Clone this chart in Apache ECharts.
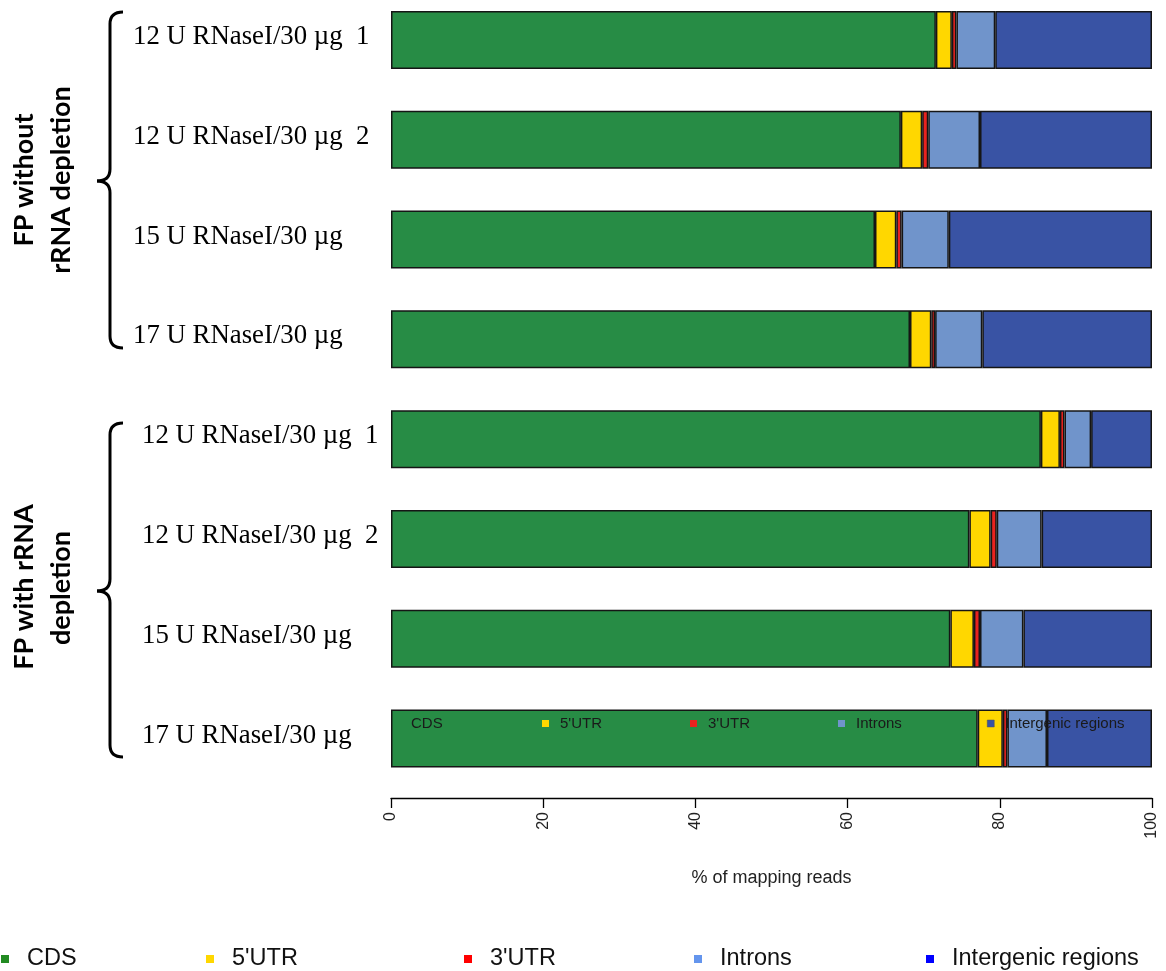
<!DOCTYPE html>
<html>
<head>
<meta charset="utf-8">
<script src="https://cdn.jsdelivr.net/npm/echarts@6/dist/echarts.min.js"></script>
<style>
  html, body { margin: 0; padding: 0; background: #ffffff; }
  #chart { width: 1166px; height: 971px; }
</style>
</head>
<body>
<div id="chart"></div>
<script>
// Samples (top to bottom)
const samples = [
  '12 U RNaseI/30 µg  1',
  '12 U RNaseI/30 µg  2',
  '15 U RNaseI/30 µg',
  '17 U RNaseI/30 µg',
  '12 U RNaseI/30 µg  1 ',
  '12 U RNaseI/30 µg  2 ',
  '15 U RNaseI/30 µg ',
  '17 U RNaseI/30 µg '
];
const groupTitles = [['FP without', 'rRNA depletion'], ['FP with rRNA', 'depletion']];

// % of mapping reads per genomic feature
const cds        = [71.6, 67.0, 63.6, 68.2, 85.4, 76.0, 73.5, 77.1];
const utr5       = [2.1, 2.8, 2.8, 2.8, 2.5, 2.8, 3.1, 3.3];
const utr3       = [0.6, 0.8, 0.7, 0.5, 0.6, 0.8, 0.8, 0.6];
const introns    = [5.1, 6.8, 6.2, 6.2, 3.5, 5.9, 5.7, 5.2];
const intergenic = [20.6, 22.6, 26.7, 22.3, 8.0, 14.5, 16.9, 13.8];

const featureNames = ['CDS', "5'UTR", "3'UTR", 'Introns', 'Intergenic regions'];
const xTicks = [0, 20, 40, 60, 80, 100];

const barColors = ['#278C45', '#FFD700', '#E8231F', '#7094CB', '#3953A4'];
const keyColors = ['#228B22', '#FFD700', '#FF0000', '#6495ED', '#0000FF'];

const seriesValues = [cds, utr5, utr3, introns, intergenic];

const chart = echarts.init(document.getElementById('chart'), null, { renderer: 'canvas' });

const series = featureNames.map((name, i) => ({
  name: name,
  type: 'bar',
  stack: 'reads',
  barWidth: 58,
  clip: false,
  data: seriesValues[i],
  itemStyle: { color: barColors[i], borderColor: '#151515', borderWidth: 1.5 },
  emphasis: { disabled: true },
  silent: true
}));

// Key inside the last bar
const innerKeyX = [393, 542, 690, 838, 987];
const innerLegends = featureNames.map((name, i) => ({
  left: innerKeyX[i],
  top: 716,
  padding: 0,
  orient: 'horizontal',
  selectedMode: false,
  itemWidth: 7,
  itemHeight: 7,
  icon: 'rect',
  data: [{ name: name, itemStyle: { color: barColors[i], borderColor: i === 4 ? '#555' : barColors[i], borderWidth: i === 4 ? 0.5 : 0 } }],
  textStyle: { fontFamily: 'Liberation Sans, Arial', fontSize: 15, color: '#1a1a1a', padding: [0, 0, 0, 6] }
}));

// Key below the chart
const outerKeyX = [1, 206, 464, 694, 926];
const outerLegends = featureNames.map((name, i) => ({
  left: outerKeyX[i],
  top: 947,
  padding: 0,
  orient: 'horizontal',
  selectedMode: false,
  itemWidth: 8,
  itemHeight: 8,
  icon: 'rect',
  data: [{ name: name, itemStyle: { color: keyColors[i], borderWidth: 0 } }],
  textStyle: { fontFamily: 'Liberation Sans, Arial', fontSize: 23.5, color: '#111', padding: [0, 0, 0, 13] }
}));

// Curly brace built from straight strokes and quadratic curves
function brace(top, mid, bottom) {
  const st = { stroke: '#000', lineWidth: 3, fill: null };
  const seg = (shape, type) => ({ type: type, shape: shape, style: st, silent: true });
  return [
    seg({ x1: 123, y1: top, cpx1: 110, cpy1: top, x2: 110, y2: top + 12 }, 'bezierCurve'),
    seg({ x1: 110, y1: top + 12, x2: 110, y2: mid - 12 }, 'line'),
    seg({ x1: 110, y1: mid - 12, cpx1: 110, cpy1: mid, x2: 97, y2: mid }, 'bezierCurve'),
    seg({ x1: 97, y1: mid, cpx1: 110, cpy1: mid, x2: 110, y2: mid + 12 }, 'bezierCurve'),
    seg({ x1: 110, y1: mid + 12, x2: 110, y2: bottom - 12 }, 'line'),
    seg({ x1: 110, y1: bottom - 12, cpx1: 110, cpy1: bottom, x2: 123, y2: bottom }, 'bezierCurve')
  ];
}

function rotatedTitle(text, x, y) {
  return {
    type: 'text',
    x: x, y: y,
    rotation: Math.PI / 2,
    style: {
      text: text,
      font: 'bold 27px Lato, "Open Sans", sans-serif',
      fill: '#000',
      align: 'center',
      verticalAlign: 'middle'
    },
    silent: true
  };
}

const option = {
  backgroundColor: '#ffffff',
  animation: false,
  grid: { left: 391, right: 14, top: 40, height: 698.5, containLabel: false },
  xAxis: {
    type: 'value',
    min: 0, max: 100, interval: 20,
    offset: 59.5,
    axisLine: { show: true, lineStyle: { color: '#000', width: 1.3 } },
    axisTick: { show: true, length: 10, lineStyle: { color: '#000', width: 1.3 } },
    splitLine: { show: false },
    axisLabel: {
      rotate: 90, margin: 14, fontFamily: 'Liberation Sans, Arial', fontSize: 16, color: '#222',
      formatter: v => xTicks.includes(v) ? String(v) : ''
    },
    name: '% of mapping reads',
    nameLocation: 'middle',
    nameGap: 71,
    nameTextStyle: { fontFamily: 'Liberation Sans, Arial', fontSize: 18, color: '#222' }
  },
  yAxis: {
    type: 'category',
    inverse: true,
    boundaryGap: false,
    data: samples,
    axisLine: { show: false },
    axisTick: { show: false },
    splitLine: { show: false },
    axisLabel: {
      align: 'left',
      margin: 258,
      formatter: (v, idx) => (idx < 4 ? '{a|' : '{b|') + v.trim() + '}',
      rich: {
        a: { fontFamily: 'Liberation Serif, Times New Roman, serif', fontSize: 26.8, color: '#000', padding: [0, 0, 6, 0] },
        b: { fontFamily: 'Liberation Serif, Times New Roman, serif', fontSize: 26.8, color: '#000', padding: [0, 0, 6, 9] }
      }
    }
  },
  legend: innerLegends.concat(outerLegends),
  series: series,
  graphic: [].concat(
    brace(12, 181, 348),
    brace(423, 591, 757),
    [
      rotatedTitle(groupTitles[0][0], 24, 180),
      rotatedTitle(groupTitles[0][1], 61, 180),
      rotatedTitle(groupTitles[1][0], 24, 587),
      rotatedTitle(groupTitles[1][1], 61, 588)
    ]
  )
};

chart.setOption(option);
</script>
</body>
</html>
